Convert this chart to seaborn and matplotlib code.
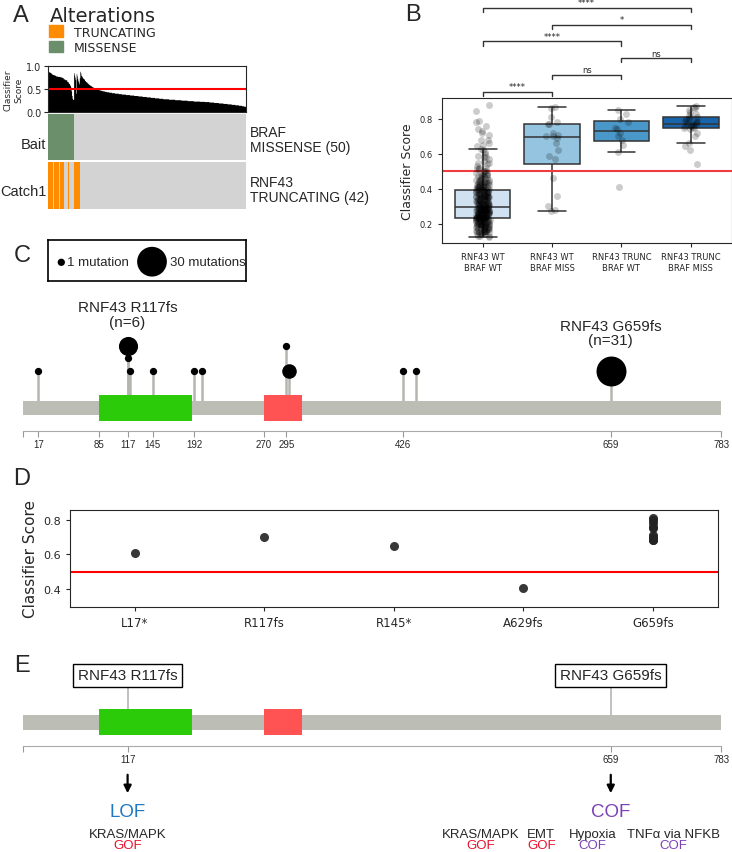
import numpy as np
import pandas as pd
import matplotlib
matplotlib.use("Agg")
import matplotlib.pyplot as plt
import matplotlib.transforms as mtransforms
from matplotlib.colors import ListedColormap
from matplotlib.patches import Rectangle
import seaborn as sns

# ---------------- data ----------------
# classifier scores per group (panel B, also ordered into the panel A track)
rnf43_wt_braf_wt = [
    0.88, 0.845, 0.79, 0.78, 0.76, 0.74, 0.73, 0.72, 0.71, 0.68,
    0.68, 0.66, 0.65, 0.645, 0.63, 0.62, 0.61, 0.60, 0.59, 0.58,
    0.58, 0.57, 0.56, 0.55, 0.55, 0.54, 0.53, 0.52, 0.52, 0.51,
    0.51, 0.50, 0.50, 0.50, 0.49, 0.49, 0.49, 0.48, 0.48, 0.48,
    0.47, 0.47, 0.47, 0.46, 0.46, 0.46, 0.46, 0.45, 0.45, 0.45,
    0.45, 0.44, 0.44, 0.44, 0.44, 0.44, 0.43, 0.43, 0.43, 0.43,
    0.43, 0.42, 0.42, 0.42, 0.42, 0.42, 0.42, 0.41, 0.41, 0.41,
    0.41, 0.41, 0.41, 0.41, 0.40, 0.40, 0.40, 0.40, 0.40, 0.40,
    0.39, 0.39, 0.39, 0.39, 0.39, 0.39, 0.39, 0.39, 0.38, 0.38,
    0.38, 0.38, 0.38, 0.38, 0.38, 0.38, 0.37, 0.37, 0.37, 0.37,
    0.37, 0.37, 0.37, 0.37, 0.36, 0.36, 0.36, 0.36, 0.36, 0.36,
    0.36, 0.36, 0.35, 0.35, 0.35, 0.35, 0.35, 0.35, 0.35, 0.35,
    0.34, 0.34, 0.34, 0.34, 0.34, 0.34, 0.34, 0.34, 0.33, 0.33,
    0.33, 0.33, 0.33, 0.33, 0.33, 0.33, 0.32, 0.32, 0.32, 0.32,
    0.32, 0.32, 0.32, 0.32, 0.31, 0.31, 0.31, 0.31, 0.31, 0.31,
    0.31, 0.31, 0.30, 0.30, 0.30, 0.30, 0.30, 0.30, 0.30, 0.30,
    0.29, 0.29, 0.29, 0.29, 0.29, 0.29, 0.29, 0.29, 0.29, 0.29,
    0.29, 0.28, 0.28, 0.28, 0.28, 0.28, 0.28, 0.28, 0.28, 0.28,
    0.28, 0.28, 0.28, 0.27, 0.27, 0.27, 0.27, 0.27, 0.27, 0.27,
    0.27, 0.27, 0.27, 0.27, 0.27, 0.26, 0.26, 0.26, 0.26, 0.26,
    0.26, 0.26, 0.26, 0.26, 0.26, 0.26, 0.26, 0.25, 0.25, 0.25,
    0.25, 0.25, 0.25, 0.25, 0.25, 0.25, 0.25, 0.25, 0.25, 0.24,
    0.24, 0.24, 0.24, 0.24, 0.24, 0.24, 0.24, 0.24, 0.24, 0.24,
    0.24, 0.235, 0.235, 0.235, 0.235, 0.235, 0.235, 0.235, 0.235, 0.235,
    0.23, 0.23, 0.23, 0.23, 0.23, 0.23, 0.23, 0.23, 0.23, 0.22,
    0.22, 0.22, 0.22, 0.22, 0.22, 0.22, 0.22, 0.22, 0.21, 0.21,
    0.21, 0.21, 0.21, 0.21, 0.21, 0.21, 0.21, 0.20, 0.20, 0.20,
    0.20, 0.20, 0.20, 0.20, 0.20, 0.20, 0.19, 0.19, 0.19, 0.19,
    0.19, 0.19, 0.19, 0.19, 0.18, 0.18, 0.18, 0.18, 0.18, 0.18,
    0.18, 0.18, 0.17, 0.17, 0.17, 0.17, 0.17, 0.17, 0.17, 0.16,
    0.16, 0.16, 0.16, 0.16, 0.16, 0.16, 0.15, 0.15, 0.15, 0.15,
    0.15, 0.15, 0.14, 0.14, 0.14, 0.14, 0.13, 0.13, 0.13, 0.125,
]
rnf43_wt_braf_miss = [0.87, 0.86, 0.81, 0.78, 0.77, 0.77, 0.72, 0.71, 0.70, 0.70,
                      0.69, 0.66, 0.62, 0.59, 0.57, 0.46, 0.36, 0.30, 0.28, 0.275]
rnf43_trunc_braf_wt = [0.85, 0.80, 0.75, 0.70, 0.41, 0.83, 0.78, 0.72, 0.68, 0.65, 0.61, 0.74]
rnf43_trunc_braf_miss = [0.54, 0.62, 0.645, 0.66, 0.70, 0.72, 0.74, 0.745, 0.75, 0.755,
                         0.76, 0.76, 0.765, 0.77, 0.77, 0.775, 0.78, 0.78, 0.79, 0.80,
                         0.80, 0.81, 0.81, 0.82, 0.83, 0.84, 0.85, 0.86, 0.87, 0.875]
group_names = ["RNF43 WT\nBRAF WT", "RNF43 WT\nBRAF MISS",
               "RNF43 TRUNC\nBRAF WT", "RNF43 TRUNC\nBRAF MISS"]
comparisons = [(0, 1, "****"), (1, 2, "ns"), (2, 3, "ns"),
               (0, 2, "****"), (1, 3, "*"), (0, 3, "****")]

# panel C / E: RNF43 protein
protein_len = 783
domain_green = (85, 189)
domain_red = (270, 313)
mut_pos = [17, 117, 117, 120, 145, 192, 200, 295, 298, 426, 440, 659]
mut_count = [1, 6, 1, 1, 1, 1, 1, 1, 3, 1, 1, 31]
mut_stack = [0, 2, 1, 0, 0, 0, 0, 2, 0, 0, 0, 0]
c_ticks = [0, 17, 85, 117, 145, 192, 270, 295, 426, 659, 783]
e_ticks = [0, 117, 659, 783]

# panel D
variants = ["L17*", "R117fs", "R145*", "A629fs", "G659fs"]
variant_scores = {
    "L17*": [0.61],
    "R117fs": [0.70],
    "R145*": [0.65],
    "A629fs": [0.41],
    "G659fs": [0.81, 0.80, 0.78, 0.76, 0.75, 0.71, 0.70, 0.69, 0.68, 0.68],
}

# panel E
cof_pathways = ["KRAS/MAPK", "EMT", "Hypoxia", "TNFα via NFKB"]
cof_effects = ["GOF", "GOF", "COF", "COF"]

# ---------------- style / layout ----------------
sns.set_style("ticks")
plt.rcParams['font.family'] = ['DejaVu Sans']
ARIAL = 'Liberation Sans'
ORANGE, GREEN, GREY = '#ff8c00', '#6b8f6b', '#d3d3d3'
GOF_C, COF_C, LOF_C = '#e8112d', '#7b42b5', '#1f78c1'

W, H = 732, 853
fig = plt.figure(figsize=(W / 100, H / 100), dpi=100)


def box(x0, y0, x1, y1):
    return [x0 / W, 1 - y1 / H, (x1 - x0) / W, (y1 - y0) / H]


def fp(x, y):
    return x / W, 1 - y / H


def dot_size(n):
    d = 7.3 + 6.6 * np.log(n)
    return (d * 0.72) ** 2


for letter, (x, y) in zip("ABCDE", [(13, 22), (405, 21), (14, 262), (13, 485), (14, 672)]):
    fig.text(*fp(x, y), letter, fontsize=17, family=ARIAL, va='baseline')

# ---------------- panel A ----------------
braf = pd.DataFrame({
    'score': rnf43_trunc_braf_miss + rnf43_wt_braf_miss,
    'trunc': [1] * len(rnf43_trunc_braf_miss) + [0] * len(rnf43_wt_braf_miss),
}).sort_values('score', ascending=False, kind='stable')
area_scores = list(braf['score']) + rnf43_trunc_braf_wt + sorted(rnf43_wt_braf_wt, reverse=True)
bait_flag = [1] * len(braf) + [0] * (len(rnf43_trunc_braf_wt) + len(rnf43_wt_braf_wt))
catch_flag = list(braf['trunc']) + [1] * len(rnf43_trunc_braf_wt) + [0] * len(rnf43_wt_braf_wt)
n = len(area_scores)

fig.text(*fp(50, 21.7), "Alterations", fontsize=14, va='baseline')
fig.add_artist(Rectangle(fp(49.3, 37.7), 14 / W, 11.7 / H, transform=fig.transFigure, color=ORANGE))
fig.add_artist(Rectangle(fp(49.3, 53.3), 14 / W, 11.7 / H, transform=fig.transFigure, color=GREEN))
fig.text(*fp(74, 36.7), "TRUNCATING", fontsize=9, va='baseline')
fig.text(*fp(74, 52), "MISSENSE", fontsize=9, va='baseline')

axA = fig.add_axes(box(47.7, 66.7, 245.7, 113.3))
axA.fill_between(np.arange(n + 1), area_scores + area_scores[-1:], step='post', color='black', lw=0)
axA.axhline(0.5, color='red', lw=1.5)
axA.set_xlim(0, n)
axA.set_ylim(0, 1)
axA.set_xticks([])
axA.set_yticks([0, 0.5, 1.0])
axA.tick_params(labelsize=7, length=3, pad=1.5)
axA.set_ylabel("Classifier\nScore", fontsize=6.5, labelpad=2)

axBait = fig.add_axes(box(47.7, 115, 245.7, 160.7))
sns.heatmap(np.array([bait_flag]), cmap=ListedColormap([GREY, GREEN]), vmin=0, vmax=1,
            cbar=False, xticklabels=False, yticklabels=False, ax=axBait)
axCatch = fig.add_axes(box(47.7, 163.3, 245.7, 210))
sns.heatmap(np.array([catch_flag]), cmap=ListedColormap([GREY, ORANGE]), vmin=0, vmax=1,
            cbar=False, xticklabels=False, yticklabels=False, ax=axCatch)

fig.text(*fp(46.5, 145), "Bait", fontsize=10.5, family=ARIAL, ha='right', va='center')
fig.text(*fp(46.5, 192), "Catch1", fontsize=10.5, family=ARIAL, ha='right', va='center')
fig.text(*fp(250, 140.5), "BRAF\nMISSENSE (50)", fontsize=10, family=ARIAL, va='center', linespacing=1.15)
fig.text(*fp(250, 190.5), "RNF43\nTRUNCATING (42)", fontsize=10, family=ARIAL, va='center', linespacing=1.15)

# ---------------- panel B ----------------
groups_data = [rnf43_wt_braf_wt, rnf43_wt_braf_miss, rnf43_trunc_braf_wt, rnf43_trunc_braf_miss]
dfB = pd.DataFrame({
    'group': [g for g, vals in zip(group_names, groups_data) for _ in vals],
    'score': [v for vals in groups_data for v in vals],
})
axB = fig.add_axes(box(441.7, 99.3, 731.7, 244.3))
sns.boxplot(data=dfB, x='group', y='score', hue='group', order=group_names, hue_order=group_names,
            palette='Blues', saturation=1, showfliers=False, linewidth=1.1, linecolor='#333333',
            width=0.8, legend=False, ax=axB)
sns.stripplot(data=dfB, x='group', y='score', order=group_names, color='black', alpha=0.2,
              jitter=0.1, size=5, ax=axB)
axB.axhline(0.5, color='#f03c3c', lw=1.5)
axB.set_yticks([0.2, 0.4, 0.6, 0.8])
axB.tick_params(labelsize=6, length=3)
axB.set_xlabel("")
axB.set_ylabel("Classifier Score", fontsize=9)

trB = mtransforms.blended_transform_factory(axB.transData, axB.transAxes)
for k, (i, j, lab) in enumerate(comparisons):
    y = 1.0455 + k * 0.1155
    axB.plot([i, i, j, j], [y - 0.028, y, y, y - 0.028], color='#333333', lw=1,
             transform=trB, clip_on=False)
    axB.text((i + j) / 2, y + 0.004, lab, ha='center', va='bottom', fontsize=6, transform=trB)

# ---------------- panel C ----------------
legC = fig.add_axes(box(47.7, 241, 245.7, 282.3))
legC.set_xlim(0, 198)
legC.set_ylim(41.3, 0)
legC.scatter([13.6, 104.3], [22.3, 21.7], s=[dot_size(1), dot_size(30)], color='black', lw=0)
legC.text(19, 22.5, "1 mutation", fontsize=9.5, family=ARIAL, va='center')
legC.text(122, 22.5, "30 mutations", fontsize=9.5, family=ARIAL, va='center')
legC.set_xticks([])
legC.set_yticks([])
for sp in legC.spines.values():
    sp.set_color('black')
    sp.set_linewidth(1.2)


def protein_axes(y0, y1, ticks, bb_top, axis_y):
    ax = fig.add_axes(box(23.3, y0, 721.3, y1))
    ax.set_xlim(0, protein_len)
    ax.set_ylim(y1, y0)
    ax.patch.set_visible(False)
    ax.add_patch(Rectangle((0, bb_top), protein_len, 14.5, color='#bcbdb5', lw=0, zorder=1))
    for (a, b), col in [(domain_green, '#2ccb0a'), (domain_red, '#ff5252')]:
        ax.add_patch(Rectangle((a, bb_top - 6), b - a, 26, color=col, lw=0, zorder=2))
    for s in ['top', 'left', 'right']:
        ax.spines[s].set_visible(False)
    ax.spines['bottom'].set_position(('data', axis_y))
    ax.spines['bottom'].set_color('#aaaaaa')
    ax.set_yticks([])
    ax.set_xticks(ticks)
    ax.set_xticklabels([str(t) if t else '' for t in ticks], family=ARIAL)
    ax.tick_params(axis='x', labelsize=7, length=4, color='#999999', pad=2)
    return ax


axC = protein_axes(290, 452, c_ticks, 401.7, 431.7)
level_y = [372.5, 359, 347.5]
for p, c, st in zip(mut_pos, mut_count, mut_stack):
    axC.plot([p, p], [401.7, level_y[st]], color='#b5b5b0', lw=1.8, zorder=0)
for p, c, st in zip(mut_pos, mut_count, mut_stack):
    axC.scatter(p, level_y[st], s=dot_size(c), color='black', lw=0, zorder=3)
axC.text(117, 311.7, "RNF43 R117fs", fontsize=11, family=ARIAL, ha='center', va='baseline')
axC.text(117, 327, "(n=6)", fontsize=11, family=ARIAL, ha='center', va='baseline')
axC.text(659, 331.5, "RNF43 G659fs", fontsize=11, family=ARIAL, ha='center', va='baseline')
axC.text(659, 345.5, "(n=31)", fontsize=11, family=ARIAL, ha='center', va='baseline')

# ---------------- panel D ----------------
dfD = pd.DataFrame({
    'variant': [v for v in variants for _ in variant_scores[v]],
    'score': [s for v in variants for s in variant_scores[v]],
})
axD = fig.add_axes(box(70, 511, 717.6, 607.7))
sns.stripplot(data=dfD, x='variant', y='score', order=variants, color='#222222', size=6.5,
              jitter=False, alpha=0.9, ax=axD)
axD.axhline(0.5, color='red', lw=1.5)
axD.set_ylim(0.30, 0.855)
axD.set_yticks([0.4, 0.6, 0.8])
axD.tick_params(axis='y', labelsize=8, length=3)
axD.tick_params(axis='x', labelsize=8.5, length=3)
axD.set_xlabel("")
axD.set_ylabel("Classifier Score", fontsize=11)

# ---------------- panel E ----------------
axE = protein_axes(655, 760, e_ticks, 716, 746.7)
for p, lab in [(117, "RNF43 R117fs"), (659, "RNF43 G659fs")]:
    axE.plot([p, p], [688, 716], color='#b5b5b0', lw=1.2, zorder=0)
    axE.text(p, 676.3, lab, fontsize=11, family=ARIAL, ha='center', va='center',
             bbox=dict(boxstyle='square,pad=0.3', fc='white', ec='black', lw=1))

trE = mtransforms.blended_transform_factory(axE.transData, fig.transFigure)
for p, lab, col in [(117, "LOF", LOF_C), (659, "COF", COF_C)]:
    axE.annotate('', xy=(p, fp(0, 797)[1]), xytext=(p, fp(0, 773)[1]), xycoords=trE,
                 textcoords=trE, annotation_clip=False,
                 arrowprops=dict(arrowstyle='-|>', color='black', lw=1.6, mutation_scale=11))
    axE.text(p, fp(0, 817)[1], lab, transform=trE, fontsize=13.5, family=ARIAL, color=col,
             ha='center', va='baseline')

BASE1, BASE2 = 838.5, 849.5
axE.text(117, fp(0, BASE1)[1], "KRAS/MAPK", transform=trE, fontsize=9.5, family=ARIAL,
         ha='center', va='baseline')
axE.text(117, fp(0, BASE2)[1], "GOF", transform=trE, fontsize=9.5, family=ARIAL, color=GOF_C,
         ha='center', va='baseline')

for xp, path, eff in zip([481, 541.3, 592.5, 673.3], cof_pathways, cof_effects):
    fig.text(*fp(xp, BASE1), path, fontsize=9.5, family=ARIAL, ha='center', va='baseline')
    fig.text(*fp(xp, BASE2), eff, fontsize=9.5, family=ARIAL, ha='center', va='baseline',
             color=GOF_C if eff == "GOF" else COF_C)

fig.savefig("out.png", dpi=100)
